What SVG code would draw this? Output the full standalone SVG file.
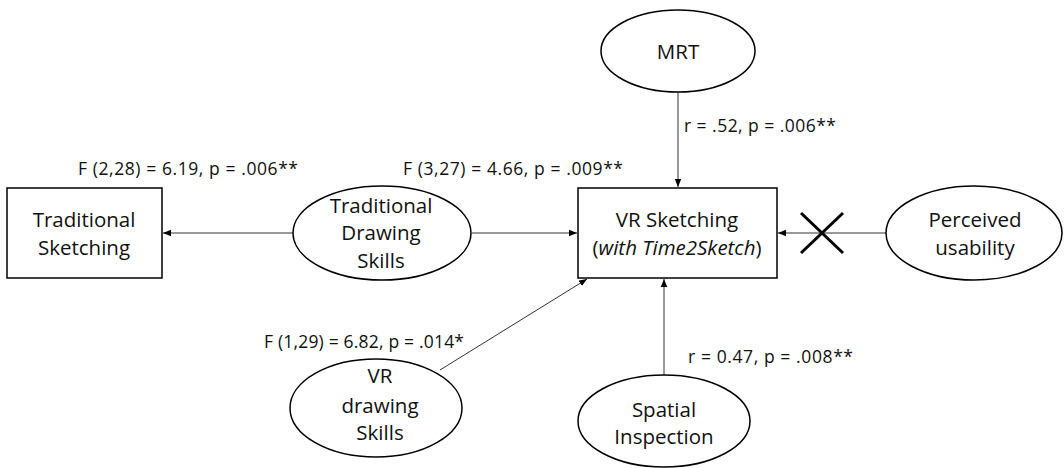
<svg xmlns="http://www.w3.org/2000/svg" width="1064" height="468" viewBox="0 0 1064 468">
<style>
.node{fill:#fff;stroke:#000;stroke-width:1.5}
.t{font-family:"Open Sans","Liberation Sans",sans-serif;font-size:20.5px;fill:#111;text-anchor:middle}
.lbl{font-family:"Open Sans","Liberation Sans",sans-serif;font-size:17.5px;fill:#111}
.c{stroke:#333;stroke-width:1;fill:none;marker-end:url(#ah)}
</style>
<defs>
<marker id="ah" viewBox="0 0 10 10" refX="10" refY="5" markerWidth="8" markerHeight="8" markerUnits="userSpaceOnUse" orient="auto">
<path d="M0,1 L10,5 L0,9 Z" fill="#000"/>
</marker>
</defs>
<rect width="1064" height="468" fill="#fff"/>
<g id="connectors">
<line class="c" x1="293" y1="233" x2="163" y2="233"/>
<line class="c" x1="472" y1="233" x2="577" y2="233"/>
<line class="c" x1="678" y1="92" x2="678" y2="187"/>
<line class="c" x1="886" y1="233" x2="778" y2="233"/>
<line class="c" x1="664" y1="375" x2="664" y2="279"/>
<line class="c" x1="440" y1="370" x2="587" y2="279"/>
<g id="cross" stroke="#000" stroke-width="3">
<line x1="801" y1="213" x2="843" y2="253"/>
<line x1="843" y1="213" x2="801" y2="253"/>
</g>
</g>
<g id="traditional-sketching">
<rect class="node" x="7" y="188" width="155" height="90"/>
<text class="t" x="84" y="227">Traditional</text>
<text class="t" x="84" y="255">Sketching</text>
</g>
<g id="traditional-drawing-skills">
<ellipse class="node" cx="382" cy="233" rx="89" ry="47"/>
<text class="t" x="381" y="213">Traditional</text>
<text class="t" x="381" y="240">Drawing</text>
<text class="t" x="381" y="268">Skills</text>
</g>
<g id="vr-sketching">
<rect class="node" x="578" y="188" width="199" height="90"/>
<text class="t" x="677" y="227">VR Sketching</text>
<text class="t" x="677" y="255">(<tspan font-style="italic">with Time2Sketch</tspan>)</text>
</g>
<g id="mrt">
<ellipse class="node" cx="678" cy="51" rx="77" ry="41"/>
<text class="t" x="678" y="59">MRT</text>
</g>
<g id="perceived-usability">
<ellipse class="node" cx="974" cy="233" rx="88" ry="47"/>
<text class="t" x="975" y="227">Perceived</text>
<text class="t" x="975" y="255">usability</text>
</g>
<g id="spatial-inspection">
<ellipse class="node" cx="664" cy="421" rx="86" ry="46"/>
<text class="t" x="664" y="417">Spatial</text>
<text class="t" x="664" y="444">Inspection</text>
</g>
<g id="vr-drawing-skills">
<ellipse class="node" cx="376" cy="408" rx="86" ry="49"/>
<text class="t" x="380" y="383">VR</text>
<text class="t" x="380" y="413">drawing</text>
<text class="t" x="380" y="440">Skills</text>
</g>
<g id="labels">
<text class="lbl" x="78" y="175" textLength="220">F (2,28) = 6.19, p = .006**</text>
<text class="lbl" x="403" y="175" textLength="220">F (3,27) = 4.66, p = .009**</text>
<text class="lbl" x="684" y="132" textLength="152">r = .52, p = .006**</text>
<text class="lbl" x="264" y="348" textLength="200">F (1,29) = 6.82, p = .014*</text>
<text class="lbl" x="688" y="363" textLength="165">r = 0.47, p = .008**</text>
</g>
</svg>
